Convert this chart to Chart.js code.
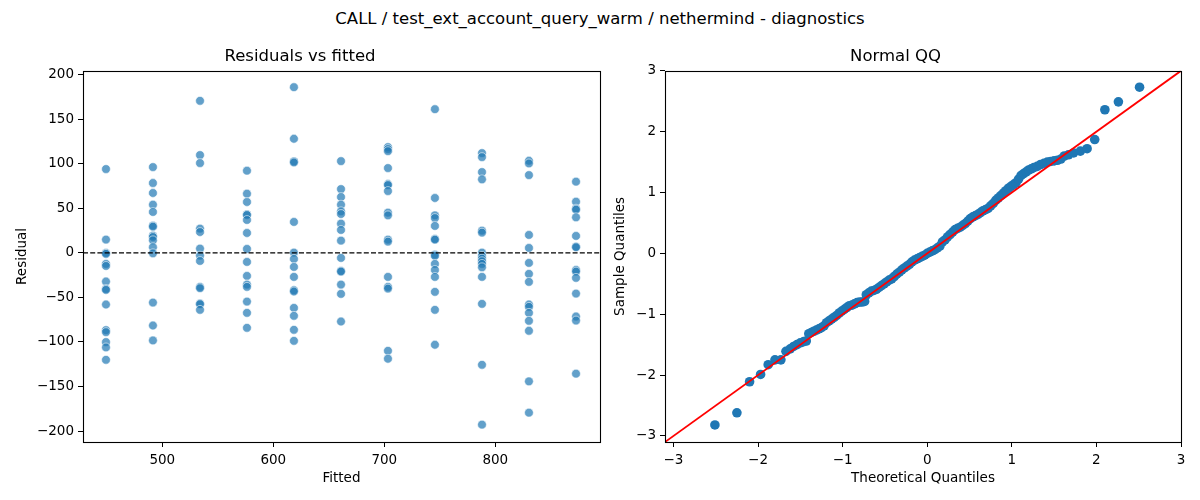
<!DOCTYPE html>
<html lang="en">
<head>
<meta charset="UTF-8">
<title>CALL / test_ext_account_query_warm / nethermind - diagnostics</title>
<script src="https://cdn.jsdelivr.net/npm/chart.js"></script>
<style>
    body {
        margin: 0;
        width: 1200px;
        height: 500px;
        background: #fff;
        font-family: "DejaVu Sans", sans-serif;
        position: relative;
        overflow: hidden;
    }
    #suptitle {
        position: absolute;
        top: 9px;
        left: 0;
        width: 1200px;
        text-align: center;
        font-size: 16.5px;
        line-height: 20px;
        color: #000;
    }
    .panel {
        position: absolute;
        top: 40px;
        height: 460px;
    }
    #residPanel { left: 0; width: 610px; }
    #qqPanel { left: 610px; width: 590px; }
</style>
</head>
<body>
<div id="suptitle">CALL / test_ext_account_query_warm / nethermind - diagnostics</div>
<div class="panel" id="residPanel"><canvas id="residChart"></canvas></div>
<div class="panel" id="qqPanel"><canvas id="qqChart"></canvas></div>

<script>
// fitted levels (x) and the residuals seen at each level
const fittedLevels = [449.3, 491.6, 534.0, 576.3, 618.6, 661.0, 703.3, 745.6, 788.0, 830.3, 872.7];
const residualGroups = [
    [94.2, 15.0, 0.0, -1.0, -12.3, -14.6, -32.1, -40.4, -41.5, -57.9, -86.7, -88.9, -100.1, -106.1, -120.0],
    [96.4, 78.5, 67.3, 54.2, 46.0, 30.6, 29.5, 19.4, 17.9, 14.2, 6.4, -0.4, -55.7, -81.5, -98.3],
    [170.8, 109.9, 100.9, 27.3, 23.5, 4.9, -3.0, -9.0, -38.1, -39.6, -56.8, -57.5, -63.9],
    [92.3, 66.5, 57.2, 43.3, 42.6, 37.0, 22.4, 4.5, -10.1, -25.8, -35.5, -38.1, -54.6, -67.3, -84.1],
    [186.1, 128.2, 102.8, 101.6, 34.8, 0.4, -6.7, -15.7, -26.9, -41.9, -43.3, -61.7, -70.6, -86.3, -98.7],
    [103.1, 71.7, 62.8, 54.2, 46.7, 43.7, 32.9, 25.8, 13.8, -5.6, -20.2, -20.9, -35.5, -46.0, -77.0],
    [118.8, 116.6, 114.3, 95.3, 77.4, 76.2, 69.5, 45.2, 42.2, 14.9, 12.7, -26.9, -38.1, -40.0, -109.9, -118.8],
    [161.4, 61.7, 42.2, 39.2, 30.3, 15.7, 14.9, -1.9, -3.4, -12.3, -19.1, -26.9, -43.7, -63.9, -103.1],
    [112.1, 107.6, 90.8, 82.6, 25.0, 22.8, 0.4, -3.4, -6.4, -9.3, -12.3, -16.1, -26.9, -57.2, -125.6, -192.8],
    [103.5, 100.5, 87.4, 20.2, 5.6, -11.2, -23.5, -32.5, -57.9, -60.5, -67.3, -76.2, -87.4, -144.2, -179.4],
    [80.0, 57.5, 49.7, 48.6, 40.0, 19.1, 7.1, 6.4, -19.1, -20.9, -28.0, -45.6, -71.4, -75.9, -135.6]
];

// QQ points
const theoretical = [
    -2.51, -2.25, -2.10, -1.97, -1.88, -1.80, -1.73, -1.67, -1.62, -1.58, -1.54, -1.50, -1.46, -1.43,
    -1.40, -1.37, -1.34, -1.31, -1.28, -1.25, -1.22, -1.19, -1.16, -1.13, -1.10, -1.07, -1.04, -1.01,
    -0.98, -0.95, -0.92, -0.89, -0.86, -0.83, -0.80, -0.77, -0.74, -0.72, -0.69, -0.66, -0.63, -0.60,
    -0.57, -0.54, -0.51, -0.48, -0.45, -0.42, -0.39, -0.36, -0.33, -0.30, -0.27, -0.24, -0.21, -0.18,
    -0.15, -0.12, -0.09, -0.06, -0.03, 0.00, 0.03, 0.06, 0.09, 0.12, 0.15, 0.18, 0.21, 0.24, 0.27,
    0.30, 0.33, 0.36, 0.39, 0.42, 0.45, 0.48, 0.51, 0.54, 0.57, 0.60, 0.63, 0.66, 0.69, 0.72, 0.75,
    0.78, 0.81, 0.84, 0.87, 0.90, 0.93, 0.96, 0.99, 1.02, 1.05, 1.08, 1.11, 1.14, 1.17, 1.20, 1.23,
    1.26, 1.30, 1.34, 1.38, 1.42, 1.46, 1.50, 1.54, 1.58, 1.62, 1.67, 1.73, 1.81, 1.89, 1.98, 2.10,
    2.26, 2.51
];
const sample = [
    -2.82, -2.62, -2.11, -1.99, -1.83, -1.75, -1.75, -1.61, -1.57, -1.53, -1.50, -1.47, -1.45, -1.44,
    -1.32, -1.30, -1.28, -1.26, -1.24, -1.22, -1.19, -1.14, -1.11, -1.08, -1.05, -1.02, -0.98, -0.95,
    -0.92, -0.89, -0.86, -0.85, -0.83, -0.81, -0.80, -0.80, -0.79, -0.68, -0.65, -0.62, -0.61, -0.59,
    -0.56, -0.53, -0.50, -0.47, -0.44, -0.42, -0.38, -0.34, -0.31, -0.27, -0.24, -0.21, -0.18, -0.14,
    -0.11, -0.09, -0.07, -0.05, -0.03, 0.00, 0.02, 0.04, 0.06, 0.09, 0.12, 0.19, 0.22, 0.27, 0.31,
    0.35, 0.39, 0.41, 0.43, 0.46, 0.49, 0.53, 0.57, 0.60, 0.62, 0.64, 0.67, 0.70, 0.72, 0.74, 0.78,
    0.82, 0.87, 0.91, 0.95, 0.99, 1.03, 1.07, 1.10, 1.13, 1.16, 1.22, 1.28, 1.31, 1.34, 1.37, 1.39,
    1.41, 1.43, 1.46, 1.48, 1.50, 1.51, 1.52, 1.53, 1.55, 1.60, 1.62, 1.65, 1.68, 1.72, 1.87, 2.36,
    2.49, 2.73
];

// axis limits and ticks
const residXRange = [428.6, 894.3];
const residYRange = [-212.3, 204.5];
const residXTicks = [500, 600, 700, 800];
const residYTicks = [-200, -150, -100, -50, 0, 50, 100, 150, 200];
const qqRange = [-3.1, 3.0];
const qqTicks = [-3, -2, -1, 0, 1, 2, 3];

const FONT = '"DejaVu Sans", sans-serif';
const minus = v => String(v).replace('-', '\u2212');

// black frame around the plot area (matplotlib spines)
const framePlugin = {
    id: 'frame',
    afterDatasetsDraw(chart) {
        const a = chart.chartArea;
        const c = chart.ctx;
        c.save();
        c.strokeStyle = '#000';
        c.lineWidth = 1.1;
        c.strokeRect(Math.round(a.left) + 0.5, Math.round(a.top) + 0.5,
                     Math.round(a.right - a.left), Math.round(a.bottom - a.top));
        c.restore();
    }
};

function axis(range, ticks, title, titlePad, size, isX) {
    return {
        type: 'linear',
        min: range[0],
        max: range[1],
        afterBuildTicks: s => { s.ticks = ticks.map(v => ({value: v})); },
        afterFit: s => { if (isX) s.height = size; else s.width = size; },
        grid: {drawOnChartArea: false, drawTicks: true, tickLength: 5, tickColor: '#000', lineWidth: 1},
        border: {display: false},
        ticks: {
            color: '#000',
            font: {family: FONT, size: 13.5},
            padding: isX ? 5 : 4,
            maxRotation: 0,
            autoSkip: false,
            callback: v => minus(v)
        },
        title: {
            display: true,
            text: title,
            color: '#000',
            font: {family: FONT, size: 13.5},
            padding: isX ? {top: 0, bottom: titlePad} : {top: titlePad, bottom: 0}
        }
    };
}

function plotTitle(text) {
    return {
        display: true,
        text: text,
        color: '#000',
        font: {family: FONT, size: 16.5, weight: 'normal'},
        padding: {top: 7, bottom: 4}
    };
}

const residPoints = [];
fittedLevels.forEach((f, i) => {
    residualGroups[i].forEach(r => residPoints.push({x: f, y: r}));
});

new Chart(document.getElementById('residChart'), {
    type: 'scatter',
    data: {
        datasets: [
            {
                type: 'line',
                data: [{x: residXRange[0], y: 0}, {x: residXRange[1], y: 0}],
                borderColor: '#000',
                borderWidth: 1.3,
                borderDash: [5, 2.2],
                pointRadius: 0,
                order: 0
            },
            {
                data: residPoints,
                backgroundColor: 'rgba(31,119,180,0.7)',
                borderColor: 'rgba(255,255,255,0.7)',
                borderWidth: 0.8,
                pointRadius: 4.4,
                order: 1
            }
        ]
    },
    options: {
        responsive: true,
        maintainAspectRatio: false,
        animation: false,
        layout: {padding: {left: 0, right: 10, top: 0, bottom: 0}},
        scales: {
            x: axis(residXRange, residXTicks, 'Fitted', 13, 58, true),
            y: axis(residYRange, residYTicks, 'Residual', 14, 83, false)
        },
        plugins: {
            legend: {display: false},
            title: plotTitle('Residuals vs fitted')
        }
    },
    plugins: [framePlugin]
});

new Chart(document.getElementById('qqChart'), {
    type: 'scatter',
    data: {
        datasets: [
            {
                type: 'line',
                data: [{x: qqRange[0], y: qqRange[0]}, {x: qqRange[1], y: qqRange[1]}],
                borderColor: '#ff0000',
                borderWidth: 1.8,
                pointRadius: 0,
                order: 0
            },
            {
                data: theoretical.map((t, i) => ({x: t, y: sample[i]})),
                backgroundColor: '#1f77b4',
                borderWidth: 0,
                pointRadius: 4.8,
                order: 1
            }
        ]
    },
    options: {
        responsive: true,
        maintainAspectRatio: false,
        animation: false,
        layout: {padding: {left: 0, right: 19, top: 0, bottom: 0}},
        scales: {
            x: axis(qqRange, qqTicks, 'Theoretical Quantiles', 13, 58, true),
            y: axis(qqRange, qqTicks, 'Sample Quantiles', 2, 55, false)
        },
        plugins: {
            legend: {display: false},
            title: plotTitle('Normal QQ')
        }
    },
    plugins: [framePlugin]
});
</script>
</body>
</html>
